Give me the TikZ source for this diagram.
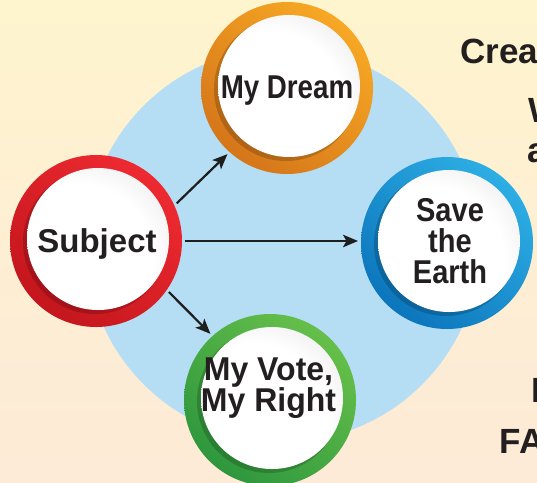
\documentclass[tikz,border=0pt]{standalone}
\usepackage{fontspec}
\setmainfont{Liberation Sans}
\newfontfamily\fsubj{Liberation Sans}
\newfontfamily\fvote{Liberation Sans}[FakeStretch=0.97]
\newfontfamily\fsave{Liberation Sans}[FakeStretch=0.88]
\newfontfamily\fdream{Liberation Sans}[FakeStretch=0.84]
\usetikzlibrary{arrows.meta,calc}
\definecolor{bgtop}{HTML}{FEF4CE}
\definecolor{bgbot}{HTML}{FDEAD7}
\definecolor{bgblue}{HTML}{B5DDF3}
\definecolor{redD}{HTML}{C4161D}
\definecolor{redL}{HTML}{EE2A31}
\definecolor{orgD}{HTML}{D5761A}
\definecolor{orgL}{HTML}{F7A824}
\definecolor{bluD}{HTML}{0C75BC}
\definecolor{bluL}{HTML}{2DAEE4}
\definecolor{grnD}{HTML}{2E973D}
\definecolor{grnL}{HTML}{66BF4A}
\definecolor{txt}{HTML}{231F20}
\definecolor{arrowc}{HTML}{1E1E1E}
\definecolor{diskgrey}{HTML}{D2D2D2}
\pgfdeclareradialshading{whitedisk}{\pgfpoint{-10bp}{-10bp}}{color(0bp)=(white);color(26bp)=(white);color(54bp)=(diskgrey);color(80bp)=(diskgrey)}
\tikzset{
  ringnode/.style 2 args={circle, minimum size=172pt, inner sep=0pt, outer sep=3pt,
    path picture={
      \shade[top color=#2, bottom color=#1, shading angle=-40]
        (path picture bounding box.south west) rectangle (path picture bounding box.north east);
      \fill[black, opacity=0.18] ([shift={(-1pt,-1pt)}]path picture bounding box.center) circle (72pt);
      \shade[shading=whitedisk] ([shift={(2pt,2pt)}]path picture bounding box.center) circle (71pt);
    }},
  lbl/.style={font=#1\bfseries\fontsize{33}{31}\selectfont, text=txt, align=center, inner sep=0pt},
  sidetxt/.style={font=\bfseries\fontsize{35}{35}\selectfont, text=txt, inner sep=0pt, anchor=base west},
  arr/.style={draw=arrowc, line width=2.2pt, -{Stealth[length=15pt,width=12.5pt,inset=3.5pt]}},
}
\begin{document}
\begin{tikzpicture}[x=1pt, y=-1pt]
\useasboundingbox (0,0) rectangle (537,482);
\clip (0,0) rectangle (537,482);
\shade[top color=bgtop, bottom color=bgbot] (0,0) rectangle (537,482);
\fill[bgblue] (283,245) circle (197pt);

\node[ringnode={redD}{redL}] (subject) at (96,241) {};
\node[ringnode={orgD}{orgL}] (dream) at (287,88) {};
\node[ringnode={bluD}{bluL}] (save) at (447,243) {};
\node[ringnode={grnD}{grnL}] (vote) at (270,400) {};

\node[lbl=\fsubj] (tsubject) at ([shift={(1pt,-3pt)}]subject.center) {Subject};
\node[lbl=\fdream] (tdream) at ([shift={(0pt,-3pt)}]dream.center) {My Dream};
\node[lbl=\fsave] (tsave) at ([shift={(3pt,2pt)}]save.center) {Save\\the\\Earth};
\node[lbl=\fvote] (tvote) at ([shift={(-1.5pt,12pt)}]vote.center) {My Vote,\\My Right};

\draw[arr] (subject.25) -- (dream.228);
\draw[arr] (subject.east) -- (subject.east -| save.west);
\draw[arr] (subject.-35) -- (vote.132);

\node[sidetxt] (c1) at (460,63) {Crea};
\node[sidetxt] (c2) at (528,122) {W};
\node[sidetxt] (c3) at (527.5,162) {a};
\node[sidetxt] (c4) at (531,402) {I};
\node[sidetxt] (c5) at (499.5,453) {FA};
\end{tikzpicture}
\end{document}
